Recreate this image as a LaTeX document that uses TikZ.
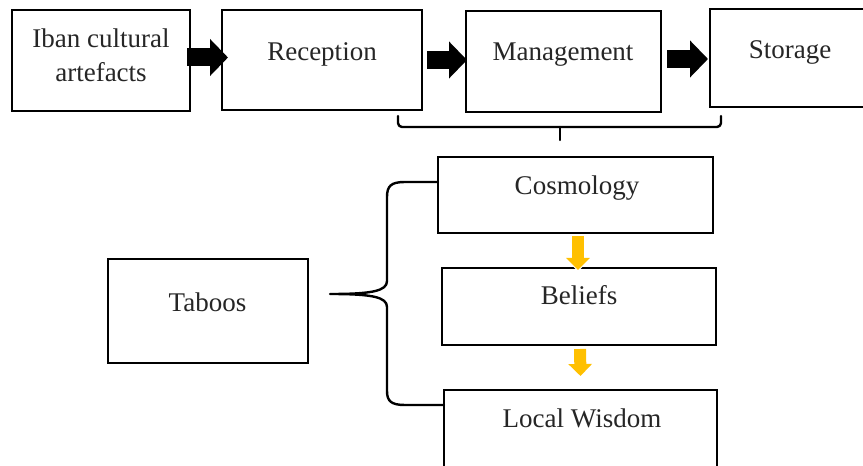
\documentclass[tikz,border=0pt]{standalone}
\usepackage{fontspec}
\setmainfont{Liberation Serif}
\usetikzlibrary{arrows.meta,calc}
\definecolor{amber}{HTML}{FFC000}
\newcommand\boxat[5]{\node[box, anchor=north west, minimum width={(#4-#2)*0.75pt}, minimum height={(#5-#3)*0.75pt}] (#1) at (#2,#3) {};}
\tikzset{
  box/.style={draw=black, line width=1.5pt, fill=white, inner sep=0pt, outer sep=0pt},
  txt/.style={font=\fontsize{20.25}{25.5}\selectfont, inner sep=0pt, outer sep=0pt, text=black!85},
  blk/.style={line width=13.5pt, -{Triangle[width=27pt,length=13.5pt]}, black},
  yel/.style={line width=9pt, -{Triangle[width=17.25pt,length=9pt]}, amber},
  yelback/.style={line width=12pt, -{Triangle[width=21pt,length=11pt]}, white},
  brace/.style={line width=1.8pt, black, line cap=round, line join=round}
}
\begin{document}
\begin{tikzpicture}[x=0.75pt, y=-0.75pt]
\clip (0,0) rectangle (863,466);
\fill[white] (0,0) rectangle (863,466);
% boxes
\boxat{iban}{12}{10}{190}{111}
\boxat{rec}{222}{10}{422}{110}
\boxat{man}{466}{11}{661}{112}
\boxat{sto}{710}{9}{890}{107}
\boxat{cos}{438}{157}{713}{233}
\boxat{bel}{442}{268}{716}{345}
\boxat{lw}{444}{390}{717}{490}
\boxat{tab}{108}{259}{308}{363}
% texts
\node[txt, align=center, anchor=center] (t-iban) at (101,55) {Iban cultural\\artefacts};
\node[txt, anchor=base] (t-rec) at (322,61) {Reception};
\node[txt, anchor=base] (t-man) at (563,61) {Management};
\node[txt, anchor=base] (t-sto) at (790,59) {Storage};
\node[txt, anchor=base] (t-cos) at (577,195) {Cosmology};
\node[txt, anchor=base] (t-bel) at (579,305) {Beliefs};
\node[txt, anchor=base] (t-lw) at (582,427) {Local Wisdom};
\node[txt, anchor=base] (t-tab) at (207.5,312) {Taboos};
% black block arrows
\draw[blk, shorten <=-2pt] (iban.east |- 0,57.5) -- ($(rec.west |- 0,57.5)+(6,0)$);
\draw[blk] ($(rec.east |- 0,60)+(5,0)$) -- ($(man.west |- 0,60)+(1,0)$);
\draw[blk] ($(man.east |- 0,59)+(6,0)$) -- ($(sto.west |- 0,59)+(-2,0)$);
% top bracket
\coordinate (bl) at (398,116);
\coordinate (br) at (721,116);
\coordinate (bm) at (560,140);
\draw[brace, rounded corners=3pt] (bl) -- (398,127) -- (721,127) -- (br);
\draw[brace] (560,127) -- (bm);
% left curly brace
\coordinate (tip) at (330,294);
\draw[brace] (cos.west |- 0,182) -- (405,182) .. controls (391,182) and (387,186) .. (387,197) -- (387,281)
  .. controls (387,291) and (372,294) .. (tip)
  .. controls (372,294) and (387,297) .. (387,307) -- (387,391)
  .. controls (387,401) and (391,405) .. (405,405) -- (lw.west |- 0,405);
% yellow arrows
\draw[yelback] ($(cos.south)+(2.5,2)$) -- ($(bel.north)+(-1,3.5)$);
\draw[yel] ($(cos.south)+(2.5,3)$) -- ($(bel.north)+(-1,2)$);
\draw[yelback] ($(bel.south)+(1,3)$) -- ($(lw.north)+(0,-12.5)$);
\draw[yel] ($(bel.south)+(1,4)$) -- ($(lw.north)+(0,-14)$);
\end{tikzpicture}
\end{document}
